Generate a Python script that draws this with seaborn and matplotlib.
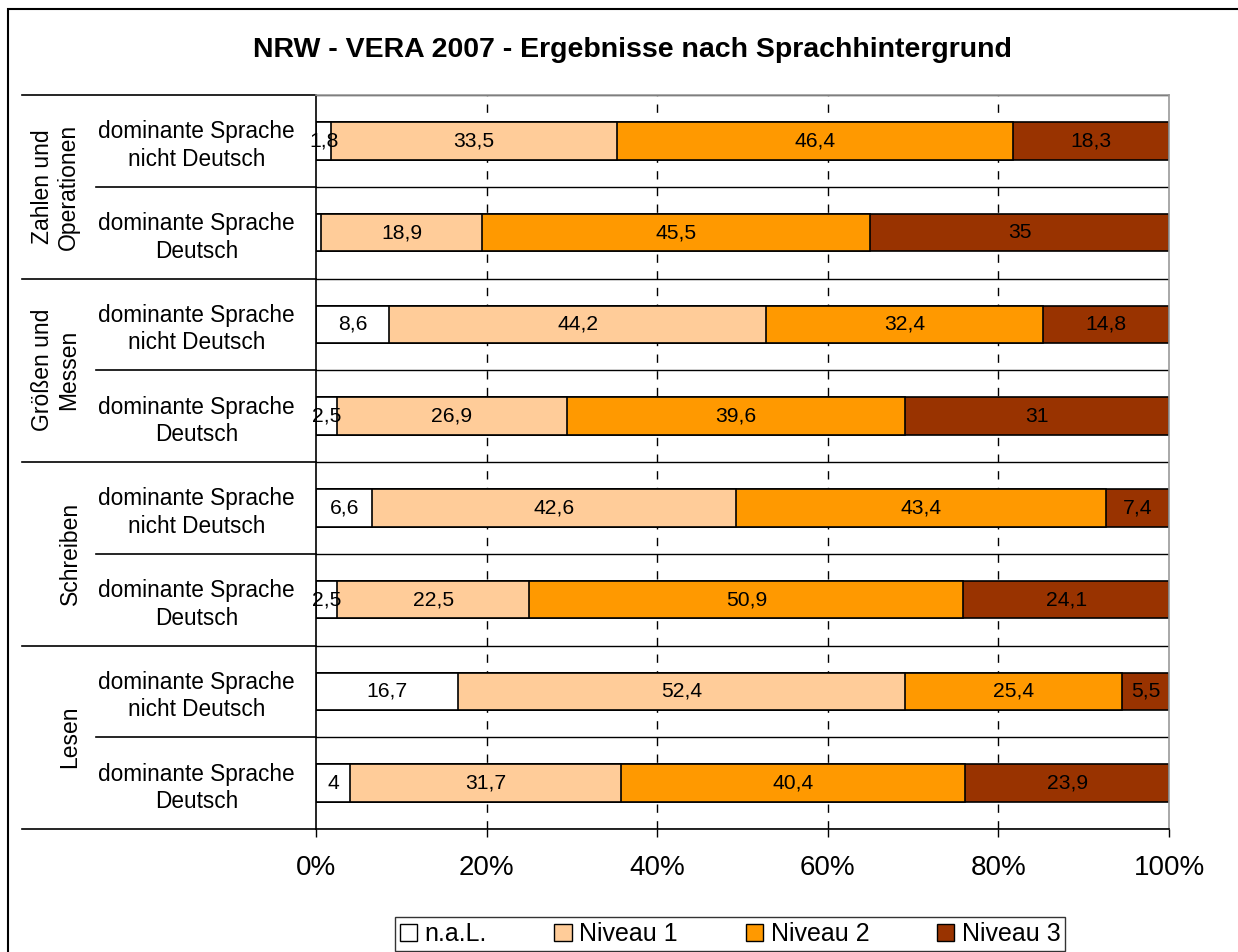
import numpy as np
import pandas as pd
import matplotlib
matplotlib.use("Agg")
import matplotlib.pyplot as plt
import seaborn as sns
from matplotlib.patches import Patch, Rectangle

# ── Data ───────────────────────────────────────────
groups = ["Zahlen und\nOperationen", "Größen und\nMessen", "Schreiben", "Lesen"]
sub_labels = ["dominante Sprache\nnicht Deutsch", "dominante Sprache\nDeutsch"]
levels = ["n.a.L.", "Niveau 1", "Niveau 2", "Niveau 3"]
colors = ["#FFFFFF", "#FFCC99", "#FF9900", "#993300"]

nal     = [1.8, 0.6, 8.6, 2.5, 6.6, 2.5, 16.7, 4.0]
niveau1 = [33.5, 18.9, 44.2, 26.9, 42.6, 22.5, 52.4, 31.7]
niveau2 = [46.4, 45.5, 32.4, 39.6, 43.4, 50.9, 25.4, 40.4]
niveau3 = [18.3, 35.0, 14.8, 31.0, 7.4, 24.1, 5.5, 23.9]
shown   = [True, False, True, True, True, True, True, True]  # n.a.L. label visible

rows = [f"{g}|{s}" for g in groups for s in sub_labels]
df = pd.DataFrame({"row": rows, "n.a.L.": nal, "Niveau 1": niveau1,
                   "Niveau 2": niveau2, "Niveau 3": niveau3})
cum = df[levels].cumsum(axis=1)

plt.rcParams["font.family"] = ["Liberation Sans", "DejaVu Sans"]

fig = plt.figure(figsize=(12.38, 9.52), dpi=100)
ax = fig.add_axes([316/1238, 1-829/952, 853/1238, 734/952])

# stacked bars: draw cumulative totals, biggest first
for lev, col in reversed(list(zip(levels, colors))):
    tmp = pd.DataFrame({"row": rows, "val": cum[lev]})
    sns.barplot(data=tmp, x="val", y="row", orient="h", color=col,
                saturation=1, edgecolor="black", linewidth=1.2,
                width=0.41, ax=ax, order=rows)

# value labels
def fmt(v):
    return f"{v:g}".replace(".", ",")

for i in range(len(rows)):
    left = 0
    for lev in levels:
        v = df.loc[i, lev]
        if lev != "n.a.L." or shown[i]:
            ax.text(left + v/2, i, fmt(v), ha="center", va="center",
                    fontsize=15.2, color="black", zorder=5)
        left += v

ax.set_xlim(0, 100)
ax.set_ylim(len(rows) - 0.5, -0.5)
ax.set_xlabel("")
ax.set_ylabel("")

# x axis
ax.set_xticks(np.arange(0, 101, 20))
ax.set_xticklabels([f"{t}%" for t in range(0, 101, 20)], fontsize=20)
ax.tick_params(axis="x", length=6, width=1, direction="out", pad=13)

# vertical dashed grid
for t in [20, 40, 60, 80]:
    ax.axvline(t, color="black", lw=1, ls=(0, (6, 6)), zorder=0)

# row boundary lines
ax.set_yticks(np.arange(-0.5, len(rows), 1), minor=True)
ax.grid(which="minor", axis="y", color="black", lw=1, zorder=0)
ax.tick_params(axis="y", which="minor", length=0)

# y labels
ax.set_yticks(np.arange(len(rows)))
ax.set_yticklabels([r.split("|")[1] for r in rows], fontsize=16.3,
                   ha="center", linespacing=1.25)
ax.tick_params(axis="y", length=0, pad=86)

for sp in ["left", "bottom"]:
    ax.spines[sp].set_color("black")
    ax.spines[sp].set_linewidth(1.2)
for sp in ["top", "right"]:
    ax.spines[sp].set_color("#999999")
    ax.spines[sp].set_linewidth(1.2)
ax.set_axisbelow(True)

# group separators and labels on the left
trans = ax.get_yaxis_transform()
x_grp = (22 - 316) / 853
x_sub = (96 - 316) / 853
for k, g in enumerate(groups):
    ax.plot([x_grp, 0], [2*k - 0.5]*2, color="black", lw=1.2,
            transform=trans, clip_on=False)
    ax.plot([x_sub, 0], [2*k + 0.5]*2, color="black", lw=1.2,
            transform=trans, clip_on=False)
    nlines = g.count("\n") + 1
    xpx = 70 - 14.5 * (nlines - 1)
    ax.text((xpx - 316) / 853, 2*k + 0.5, g, rotation=90, ha="center",
            va="center", fontsize=16.5, transform=trans, linespacing=1.2)
ax.plot([x_grp, 0], [len(rows) - 0.5]*2, color="black", lw=1.2,
        transform=trans, clip_on=False)

# title
fig.text(632/1238, 1 - 50/952, "NRW - VERA 2007 - Ergebnisse nach Sprachhintergrund",
         ha="center", va="center", fontsize=20.5, fontweight="bold")

# legend
handles = [Patch(facecolor=c, edgecolor="black", label=l) for l, c in zip(levels, colors)]
leg = fig.legend(handles=handles, loc="upper center", ncol=4,
                 bbox_to_anchor=(730/1238, 1 - 917/952), frameon=True,
                 fancybox=False, edgecolor="black", fontsize=18,
                 handlelength=0.7, handleheight=0.7, handletextpad=0.3,
                 columnspacing=2.7, borderpad=0.2, borderaxespad=0)
leg.get_frame().set_linewidth(1)

# outer border
fig.add_artist(Rectangle((8/1238, -0.05), 1.2, 1 - 9/952 + 0.05,
                         transform=fig.transFigure, fill=False,
                         edgecolor="black", lw=1.5))

fig.savefig("out.png", dpi=100)
